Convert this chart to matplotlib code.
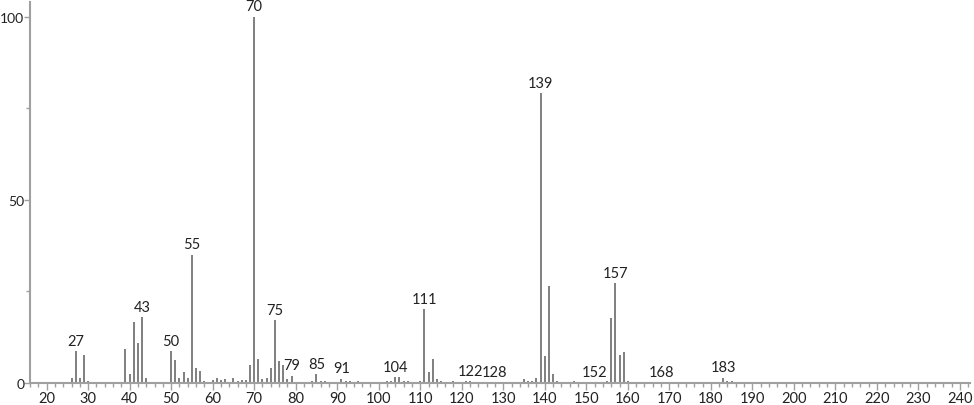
import matplotlib
matplotlib.use("Agg")
import matplotlib.pyplot as plt

plt.rcParams['font.family'] = ['Lato', 'DejaVu Sans']

# mass spectrum: m/z and relative intensity (%)
mz = [26, 27, 28, 29, 30, 39, 40, 41, 42, 43, 44,
      50, 51, 52, 53, 54, 55, 56, 57, 58, 60, 61, 62, 63, 65, 66, 67, 68, 69,
      70, 71, 72, 73, 74, 75, 76, 77, 78, 79, 81, 84, 85, 86, 87,
      91, 92, 93, 95, 102, 103, 104, 105, 106, 107,
      110, 111, 112, 113, 114, 115, 118, 119, 121, 122, 125, 128,
      135, 136, 137, 138, 139, 140, 141, 142, 143, 147, 152, 155,
      156, 157, 158, 159, 160, 168, 169, 170, 178, 183, 184, 185]
intensity = [1.5, 8.7, 1.5, 7.6, 0.6, 9.3, 2.5, 16.7, 10.9, 18.0, 1.5,
             8.7, 6.3, 1.5, 3.0, 1.5, 35.0, 4.0, 3.3, 0.6, 0.8, 1.3, 0.9, 1.0, 1.3, 0.6, 0.8, 0.8, 5.0,
             100.0, 6.5, 1.0, 1.5, 4.0, 17.2, 6.0, 5.0, 1.0, 2.0, 0.3, 0.7, 2.5, 0.7, 0.5,
             1.2, 0.7, 0.5, 0.5, 0.5, 0.6, 1.6, 1.6, 0.6, 0.5,
             0.6, 20.2, 3.0, 6.5, 1.0, 0.5, 0.5, 0.3, 0.5, 0.6, 0.3, 0.3,
             1.0, 0.5, 0.7, 1.5, 79.0, 7.4, 26.5, 2.5, 0.5, 0.5, 0.3, 0.6,
             17.8, 27.2, 7.6, 8.5, 0.7, 0.3, 0.3, 0.3, 0.3, 1.5, 0.7, 0.5]

labelled = [27, 43, 50, 55, 70, 75, 79, 85, 91, 104, 111, 122, 128, 139, 152, 157, 168, 183]

axis_col = "#a0a0a0"
bar_col = "#6a6a6a"

fig = plt.figure(figsize=(9.74, 4.06), dpi=100)
ax = fig.add_axes([0.0308, 0.054, 0.965, 0.939])

ax.vlines(mz, 0, intensity, color=bar_col, linewidth=1.2)

peak = dict(zip(mz, intensity))
for m in labelled:
    ax.text(m, peak.get(m, 0) + 0.9, str(m), ha="center", va="bottom",
            fontsize=10.5, color="#222222")

ax.set_xlim(16.2, 242.4)
ax.set_ylim(0, 104)
ax.set_xticks(range(20, 241, 10))
ax.set_xticks(range(16, 243, 2), minor=True)
ax.set_yticks([0, 50, 100])
ax.set_yticks([25, 75], minor=True)

for s in ["top", "right"]:
    ax.spines[s].set_visible(False)
for s in ["left", "bottom"]:
    ax.spines[s].set_color(axis_col)
    ax.spines[s].set_linewidth(1.5)

ax.tick_params(axis="x", which="major", length=5, width=1, color=axis_col,
               labelsize=10.5, labelcolor="#222222", pad=1)
ax.tick_params(axis="y", which="major", length=4, width=1, color=axis_col,
               labelsize=10, labelcolor="#222222", pad=0)
ax.tick_params(axis="both", which="minor", length=3, width=1, color=axis_col)

fig.savefig("out.png", dpi=100)
